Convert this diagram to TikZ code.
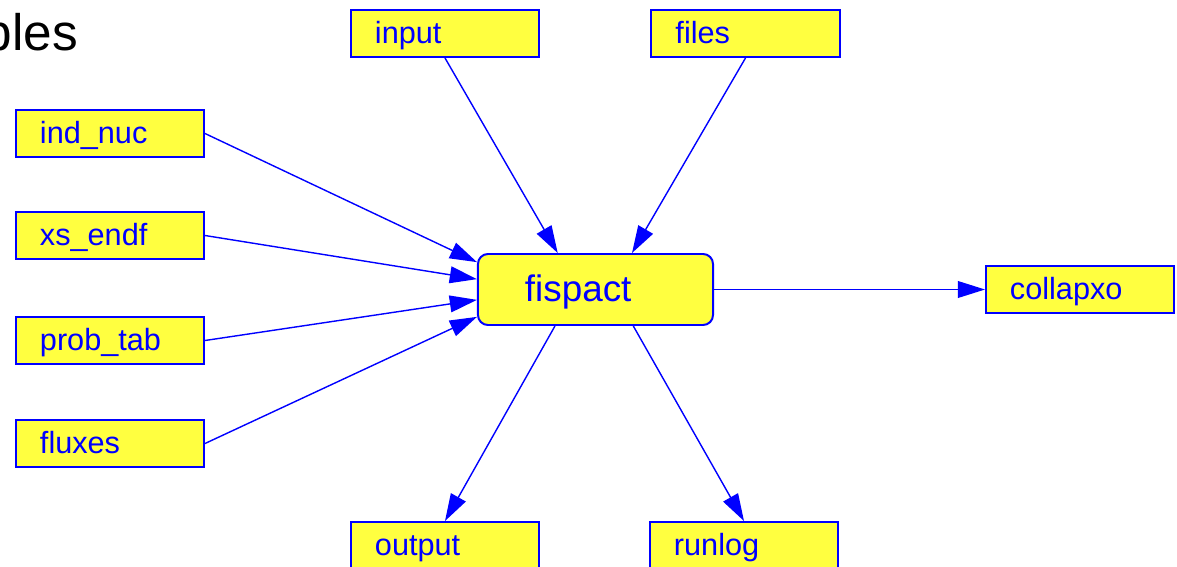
\documentclass[tikz,border=0pt]{standalone}
\usepackage{fontspec}
\setmainfont{Liberation Sans}
\usetikzlibrary{arrows.meta}
\definecolor{fblue}{RGB}{0,0,255}
\definecolor{fyel}{RGB}{255,255,64}

\begin{document}
\begin{tikzpicture}[x=0.025cm, y=-0.025cm,
      file/.style={draw=fblue, line width=1.4pt, fill=fyel, text=fblue,
                   inner xsep=0.6cm, text width=3.5cm, align=left,
                   minimum height=1.175cm, text height=0.56cm, text depth=0.06cm,
                   font=\fontsize{21.8}{26}\selectfont},
      prog/.style={file, rounded corners=0.25cm, inner xsep=1.175cm,
                   text width=3.525cm, minimum height=1.775cm,
                   text height=0.62cm, text depth=0cm,
                   font=\fontsize{26.2}{31}\selectfont},
      arr/.style={-{Triangle[length=0.68cm, width=0.42cm]}, line width=1pt, draw=fblue}]

    \useasboundingbox (0,0) rectangle (1177,566);

    \node[anchor=base east, inner sep=0pt, font=\fontsize{36.5}{40}\selectfont]
      (title) at (78,50) {bles};

    \node[prog] (fispact) at (595.5,289.5) {fispact};

    \node[file] (input)    at (445,33.5)   {input};
    \node[file] (files)    at (745.5,33.5) {files};
    \node[file] (indnuc)   at (110,133.5)  {ind\_nuc};
    \node[file] (xsendf)   at (110,235.5)  {xs\_endf};
    \node[file] (probtab)  at (110,340.5)  {prob\_tab};
    \node[file] (fluxes)   at (110,443.5)  {fluxes};
    \node[file] (collapxo) at (1080,289.5) {collapxo};
    \node[file] (output)   at (445,545.5)  {output};
    \node[file] (runlog)   at (744,545.5)  {runlog};

    % inputs
    \draw[arr] (input.south)   -- (fispact.136);
    \draw[arr] (files.south)   -- (fispact.45);
    \draw[arr] (indnuc.east)   -- (fispact.167);
    \draw[arr] (xsendf.east)   -- (fispact.175.5);
    \draw[arr] (probtab.east)  -- (fispact.185);
    \draw[arr] (fluxes.east)   -- (fispact.193.4);

    % outputs
    \draw[arr] (fispact.east)  -- (collapxo.west);
    \draw[arr] (fispact.222)   -- (output.north);
    \draw[arr] (fispact.316.6) -- (runlog.north);
  \end{tikzpicture}
\end{document}
